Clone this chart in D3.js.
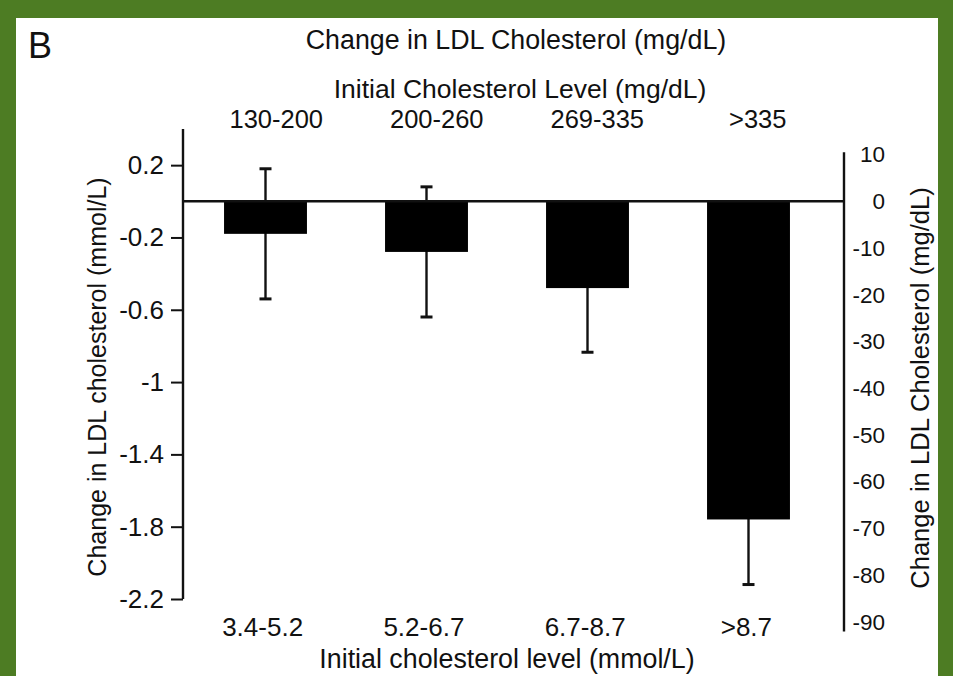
<!DOCTYPE html>
<html>
<head>
<meta charset="utf-8">
<script src="https://cdn.jsdelivr.net/npm/d3@7"></script>
<style>
  html, body { margin: 0; padding: 0; background: #4d7c23; }
  svg { display: block; }
  text { font-family: "Liberation Sans", Arial, Helvetica, sans-serif; fill: #111; }
</style>
</head>
<body>
<script>
// Change in LDL cholesterol by initial cholesterol level (mean ± error)
const categoriesMmol = ["3.4-5.2", "5.2-6.7", "6.7-8.7", ">8.7"];
const categoriesMgdl = ["130-200", "200-260", "269-335", ">335"];
const changeMmol = [-0.18, -0.28, -0.48, -1.76];
const errorMmol = [0.36, 0.36, 0.355, 0.36];
const leftTicks = [0.2, -0.2, -0.6, -1, -1.4, -1.8, -2.2];
const rightTicks = [10, 0, -10, -20, -30, -40, -50, -60, -70, -80, -90];
const MGDL_PER_MMOL = 38.67;

const W = 953, H = 676;
const svg = d3.select("body").append("svg").attr("width", W).attr("height", H);

// page background and white panel
svg.append("rect").attr("width", W).attr("height", H).attr("fill", "#4d7c23");
svg.append("rect").attr("x", 16).attr("y", 18).attr("width", 922).attr("height", H - 18).attr("fill", "#fff");

// scales
const y = d3.scaleLinear().domain([0.4, -2.2]).range([129, 599]);
const yR = d3.scaleLinear()
  .domain(y.domain().map(v => v * MGDL_PER_MMOL))
  .range(y.range());
const x = d3.scaleBand().domain(categoriesMmol).range([185, 829]).paddingInner(0.485).paddingOuter(0.2425);
const xBottom = d3.scaleBand().domain(categoriesMmol).range([182, 827]);
const xTop = d3.scaleBand().domain(categoriesMgdl).range([196, 838]);

const axisLeftX = 183, axisRightX = 844;
const stroke = "#111";
const plain = d => String(d);

// error bars (drawn first so the bars cover the inner half)
const eb = svg.append("g").attr("stroke", stroke).attr("fill", "none");
changeMmol.forEach((d, i) => {
  const cx = x(categoriesMmol[i]) + x.bandwidth() / 2;
  const top = d + errorMmol[i], bot = d - errorMmol[i];
  eb.append("line").attr("x1", cx).attr("x2", cx).attr("y1", y(top)).attr("y2", y(bot)).attr("stroke-width", 2.4);
  eb.append("line").attr("x1", cx - 6).attr("x2", cx + 6).attr("y1", y(bot)).attr("y2", y(bot)).attr("stroke-width", 3);
  eb.append("line").attr("x1", cx - 6).attr("x2", cx + 6).attr("y1", y(top)).attr("y2", y(top)).attr("stroke-width", 3);
});

// bars
svg.append("g").selectAll("rect").data(changeMmol).join("rect")
  .attr("x", (d, i) => x(categoriesMmol[i]))
  .attr("width", x.bandwidth())
  .attr("y", d => y(Math.max(0, d)))
  .attr("height", d => Math.abs(y(d) - y(0)))
  .attr("fill", "#000");

// zero line
svg.append("line")
  .attr("x1", axisLeftX).attr("x2", axisRightX)
  .attr("y1", y(0)).attr("y2", y(0))
  .attr("stroke", stroke).attr("stroke-width", 2.4);

// left axis (mmol/L)
const gl = svg.append("g").attr("transform", `translate(${axisLeftX},0)`)
  .call(d3.axisLeft(y).tickValues(leftTicks).tickFormat(plain).tickSize(12).tickSizeOuter(0).tickPadding(7));
gl.select(".domain").remove();
gl.append("line").attr("y1", y(0.4)).attr("y2", y(-2.2)).attr("stroke", stroke).attr("stroke-width", 2.4);
gl.selectAll(".tick line").attr("stroke", stroke).attr("stroke-width", 2);
gl.selectAll(".tick text").attr("font-size", 26).attr("fill", "#111").attr("font-family", null);

// right axis (mg/dL)
const gr = svg.append("g").attr("transform", `translate(${axisRightX},0)`)
  .call(d3.axisRight(yR).tickValues(rightTicks).tickFormat(plain).tickSize(0).tickPadding(41));
gr.select(".domain").remove();
gr.append("line").attr("y1", yR(10.5)).attr("y2", yR(-92)).attr("stroke", stroke).attr("stroke-width", 2.4);
gr.selectAll(".tick text").attr("font-size", 22.5).attr("fill", "#111").attr("text-anchor", "end").attr("font-family", null);

// bottom category labels
const gb = svg.append("g").attr("transform", "translate(0,636)")
  .call(d3.axisBottom(xBottom).tickSize(0).tickPadding(0));
gb.select(".domain").remove();
gb.selectAll(".tick text").attr("font-size", 26).attr("fill", "#111").attr("dy", 0).attr("font-family", null);

// top category labels
const gt = svg.append("g").attr("transform", "translate(0,128)")
  .call(d3.axisTop(xTop).tickSize(0).tickPadding(0));
gt.select(".domain").remove();
gt.selectAll(".tick text").attr("font-size", 25.5).attr("fill", "#111").attr("dy", 0).attr("font-family", null);

// titles
svg.append("text").attr("x", 28).attr("y", 58).attr("font-size", 36).text("B");
svg.append("text").attr("x", 516).attr("y", 49).attr("text-anchor", "middle").attr("font-size", 26.8)
  .text("Change in LDL Cholesterol (mg/dL)");
svg.append("text").attr("x", 520).attr("y", 98).attr("text-anchor", "middle").attr("font-size", 26.5)
  .text("Initial Cholesterol Level (mg/dL)");
svg.append("text").attr("x", 507).attr("y", 668).attr("text-anchor", "middle").attr("font-size", 26.8)
  .text("Initial cholesterol level (mmol/L)");
svg.append("text").attr("transform", "translate(97,377) rotate(-90)")
  .attr("text-anchor", "middle").attr("dominant-baseline", "central").attr("font-size", 25)
  .text("Change in LDL cholesterol (mmol/L)");
svg.append("text").attr("transform", "translate(920,388) rotate(-90)")
  .attr("text-anchor", "middle").attr("dominant-baseline", "central").attr("font-size", 25.6)
  .text("Change in LDL Cholesterol (mg/dL)");
</script>
</body>
</html>
